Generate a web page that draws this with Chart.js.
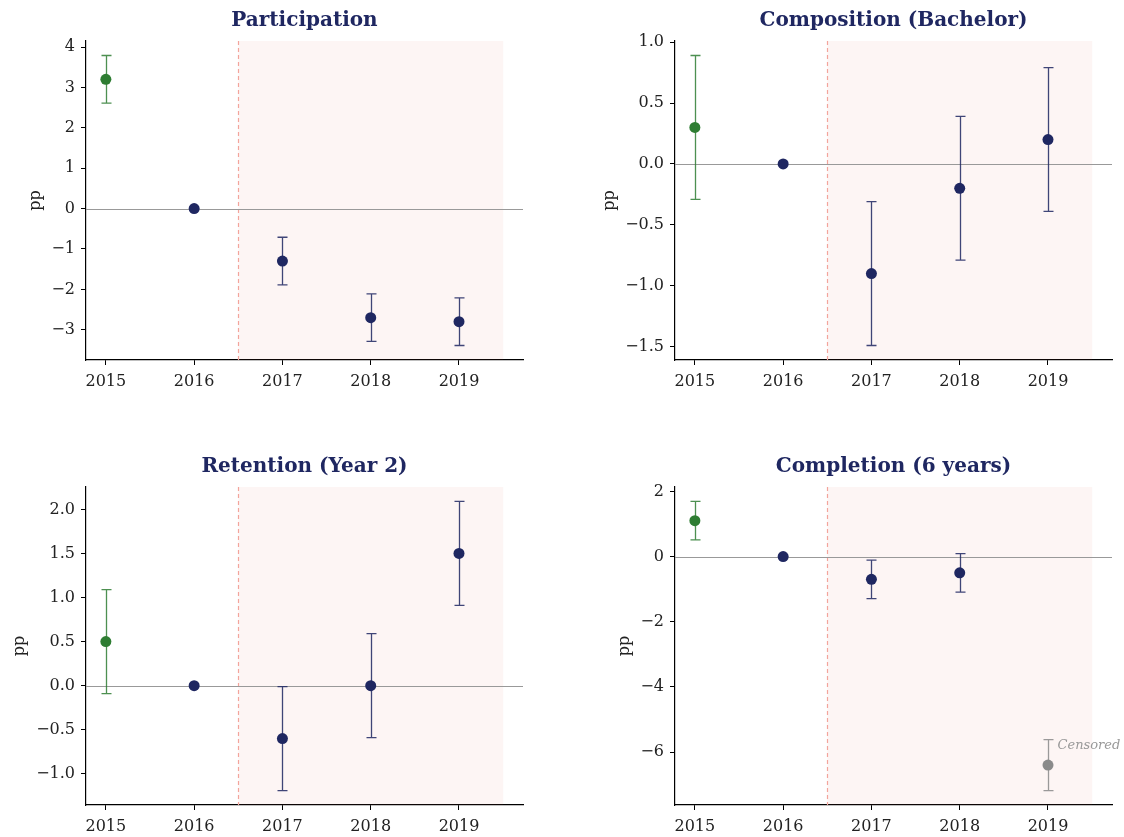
<!DOCTYPE html>
<html>
<head>
<meta charset="utf-8">
<script src="https://cdn.jsdelivr.net/npm/chart.js@4"></script>
<style>
	body { margin: 0; background: #fff; }
	.panel { position: absolute; }
</style>
</head>
<body>
<div class="panel" style="left:0;top:0"><canvas id="chart-participation" width="562" height="418"></canvas></div>
<div class="panel" style="left:562px;top:0"><canvas id="chart-composition" width="562" height="418"></canvas></div>
<div class="panel" style="left:0;top:419px"><canvas id="chart-retention" width="562" height="418"></canvas></div>
<div class="panel" style="left:562px;top:419px"><canvas id="chart-completion" width="562" height="418"></canvas></div>
<script>
var years = [2015, 2016, 2017, 2018, 2019];

var participationEst = [3.2, 0, -1.3, -2.7, -2.8];
var participationLo = [2.61, null, -1.89, -3.29, -3.39];
var participationHi = [3.79, null, -0.71, -2.11, -2.21];
var participationTicks = [-3, -2, -1, 0, 1, 2, 3, 4];

var compositionEst = [0.3, 0, -0.9, -0.2, 0.2];
var compositionLo = [-0.29, null, -1.49, -0.79, -0.39];
var compositionHi = [0.89, null, -0.31, 0.39, 0.79];
var compositionTicks = [-1.5, -1.0, -0.5, 0.0, 0.5, 1.0];

var retentionEst = [0.5, 0, -0.6, 0, 1.5];
var retentionLo = [-0.09, null, -1.19, -0.59, 0.91];
var retentionHi = [1.09, null, -0.01, 0.59, 2.09];
var retentionTicks = [-1.0, -0.5, 0.0, 0.5, 1.0, 1.5, 2.0];

var completionEst = [1.1, 0, -0.7, -0.5, -6.4];
var completionLo = [0.51, null, -1.29, -1.09, -7.18];
var completionHi = [1.69, null, -0.11, 0.09, -5.62];
var completionTicks = [-6, -4, -2, 0, 2];
var completionNotes = [null, null, null, null, "Censored"];

// pre = green, reference year + post = navy, censored = grey
var preColor = "#2e7d32";
var postColor = "#1f2761";
var censColor = "#8a8a8a";
var policyStart = 2016.5;
var policyEnd = 2019.5;

var serif = "'DejaVu Serif', 'Liberation Serif', serif";

var eventPlot = {
	id: 'eventPlot',
	beforeDatasetsDraw: function(chart, args, opts) {
		var ctx = chart.ctx, a = chart.chartArea;
		var x = chart.scales.x, y = chart.scales.y;
		ctx.save();
		// treated period
		ctx.fillStyle = "rgba(225,80,60,0.06)";
		ctx.fillRect(x.getPixelForValue(policyStart), a.top, x.getPixelForValue(policyEnd) - x.getPixelForValue(policyStart), a.bottom - a.top);
		ctx.strokeStyle = "#f3a49c";
		ctx.lineWidth = 1.2;
		ctx.setLineDash([4, 3]);
		ctx.beginPath();
		ctx.moveTo(Math.round(x.getPixelForValue(policyStart)) + 0.5, a.top);
		ctx.lineTo(Math.round(x.getPixelForValue(policyStart)) + 0.5, a.bottom);
		ctx.stroke();
		ctx.setLineDash([]);
		// zero line
		ctx.strokeStyle = "#999";
		ctx.lineWidth = 1;
		var y0 = Math.round(y.getPixelForValue(0)) + 0.5;
		ctx.beginPath();
		ctx.moveTo(a.left, y0);
		ctx.lineTo(a.right, y0);
		ctx.stroke();
		// error bars
		ctx.lineWidth = 1.3;
		for (var i = 0; i < years.length; i++) {
			if (opts.lo[i] == null) continue;
			var px = Math.round(x.getPixelForValue(years[i])) + 0.5;
			var pl = y.getPixelForValue(opts.lo[i]);
			var ph = y.getPixelForValue(opts.hi[i]);
			ctx.strokeStyle = opts.colors[i];
			ctx.globalAlpha = 0.85;
			ctx.beginPath();
			ctx.moveTo(px, pl); ctx.lineTo(px, ph);
			ctx.moveTo(px - 5, pl); ctx.lineTo(px + 5, pl);
			ctx.moveTo(px - 5, ph); ctx.lineTo(px + 5, ph);
			ctx.stroke();
			ctx.globalAlpha = 1;
			if (opts.notes && opts.notes[i]) {
				ctx.fillStyle = "#999";
				ctx.font = "italic 13px " + serif;
				ctx.textBaseline = "middle";
				ctx.textAlign = "left";
				ctx.fillText(opts.notes[i], px + 9, ph + 6);
			}
		}
		ctx.restore();
	},
	afterDraw: function(chart, args, opts) {
		var ctx = chart.ctx, a = chart.chartArea;
		ctx.save();
		ctx.fillStyle = "#1f2761";
		ctx.font = "bold 20px " + serif;
		ctx.textAlign = "center";
		ctx.textBaseline = "middle";
		ctx.fillText(opts.title, (a.left + a.right) / 2, a.top - 20);
		ctx.restore();
	}
};

function makePanel(id, title, est, lo, hi, ticks, decimals, box, notes) {
	var colors = est.map(function(v, i) {
		if (notes && notes[i]) return censColor;
		return years[i] < policyStart - 1 ? preColor : postColor;
	});
	// axis limits with matplotlib style 5% margins
	var all = est.concat(lo, hi).filter(function(v) { return v != null; });
	var ymin = Math.min.apply(null, all), ymax = Math.max.apply(null, all);
	var ypad = (ymax - ymin) * 0.05;
	var xpad = (policyEnd - years[0]) * 0.05;

	new Chart(document.getElementById(id), {
		type: 'scatter',
		data: {
			datasets: [{
				data: years.map(function(yr, i) { return {x: yr, y: est[i]}; }),
				pointBackgroundColor: colors,
				pointBorderWidth: 0,
				pointRadius: 5.5,
				pointHoverRadius: 5.5
			}]
		},
		plugins: [eventPlot],
		options: {
			responsive: false,
			animation: false,
			devicePixelRatio: 1,
			layout: { padding: { left: 0, top: box.top, right: 562 - box.right, bottom: 0 } },
			plugins: {
				legend: { display: false },
				tooltip: { enabled: false },
				eventPlot: { title: title, lo: lo, hi: hi, colors: colors, notes: notes }
			},
			scales: {
				x: {
					type: 'linear',
					min: years[0] - xpad,
					max: policyEnd + xpad,
					afterBuildTicks: function(s) { s.ticks = years.map(function(v) { return {value: v}; }); },
					afterFit: function(s) { s.height = 418 - box.bottom; },
					grid: { drawOnChartArea: false, drawTicks: true, tickLength: 5, tickColor: "#000" },
					border: { display: true, color: "#000", width: 1.2 },
					ticks: { color: "#222", padding: 7, font: { family: serif, size: 16 }, callback: function(v) { return String(v); } }
				},
				y: {
					min: ymin - ypad,
					max: ymax + ypad,
					afterBuildTicks: function(s) { s.ticks = ticks.map(function(v) { return {value: v}; }); },
					afterFit: function(s) { s.width = box.left; },
					grid: { drawOnChartArea: false, drawTicks: true, tickLength: 5, tickColor: "#000" },
					border: { display: true, color: "#000", width: 1.2 },
					ticks: {
						color: "#222", padding: 6, font: { family: serif, size: 16 },
						callback: function(v) { return v.toFixed(decimals).replace('-', '\u2212'); }
					},
					title: { display: true, text: 'pp', color: "#222", font: { family: serif, size: 16, lineHeight: 1.2 }, padding: { top: box.ylab - 9.6, bottom: 0 } }
				}
			}
		}
	});
}

makePanel("chart-participation", "Participation", participationEst, participationLo, participationHi, participationTicks, 0,
	{ left: 86, right: 523, top: 41, bottom: 360, ylab: 36 });
makePanel("chart-composition", "Composition (Bachelor)", compositionEst, compositionLo, compositionHi, compositionTicks, 1,
	{ left: 113, right: 550, top: 41, bottom: 360, ylab: 48 });
makePanel("chart-retention", "Retention (Year 2)", retentionEst, retentionLo, retentionHi, retentionTicks, 1,
	{ left: 86, right: 523, top: 68, bottom: 386, ylab: 20 });
makePanel("chart-completion", "Completion (6 years)", completionEst, completionLo, completionHi, completionTicks, 0,
	{ left: 113, right: 550, top: 68, bottom: 386, ylab: 63 }, completionNotes);
</script>
</body>
</html>
